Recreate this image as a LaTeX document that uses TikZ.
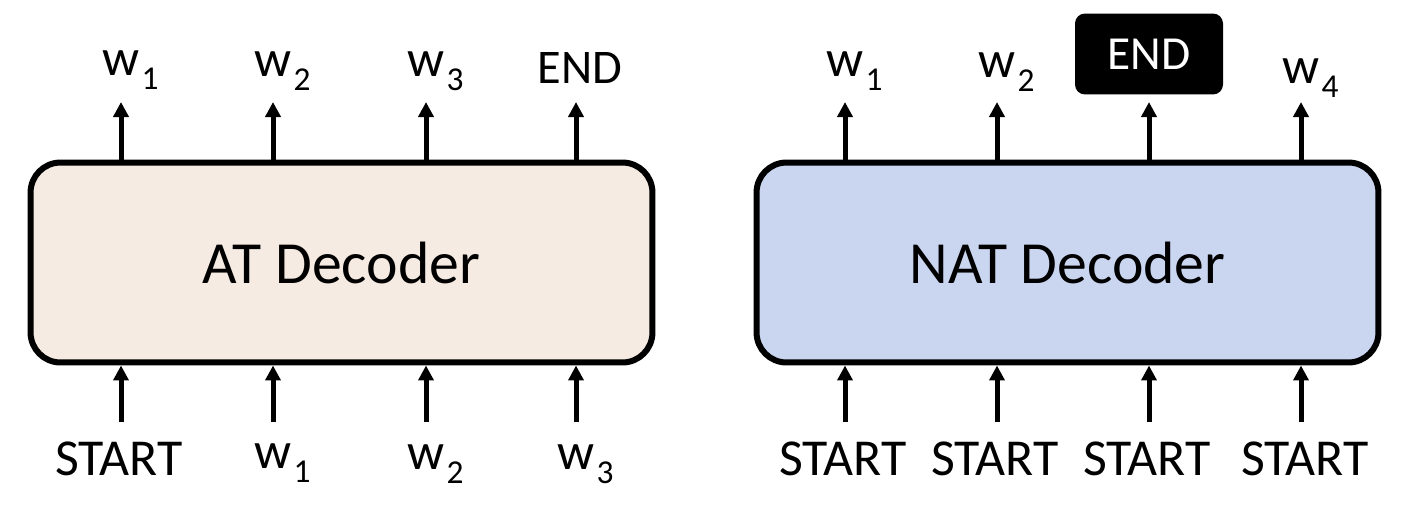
\documentclass[tikz,border=0pt]{standalone}
\usepackage{fontspec}
\setmainfont{Carlito}
\usetikzlibrary{positioning,arrows.meta}
\definecolor{atfill}{RGB}{245,235,226}
\definecolor{natfill}{RGB}{202,213,240}
\newcommand{\wsub}[1]{w\rlap{\kern0.04em\raisebox{-0.28em}{\fontsize{19}{19}\selectfont #1}}}

\begin{document}
\begin{tikzpicture}[x=0.02cm, y=-0.02cm,
  decoder/.style={draw, line width=0.12cm, rounded corners=0.6cm, minimum width=12.44cm, minimum height=4cm, font=\fontsize{34}{40}\selectfont},
  tok/.style={anchor=base, inner sep=0pt, font=\fontsize{29.5}{34}\selectfont},
  endbox/.style={fill=black, text=white, rounded corners=0.2cm, minimum width=2.96cm, minimum height=1.62cm, font=\fontsize{27}{32}\selectfont},
  arr/.style={line width=0.1cm, -{Triangle[length=0.3cm, width=0.3cm]}},
]
\useasboundingbox (0,0) rectangle (1422,508);

% decoders
\node[decoder, fill=atfill] (atdec) at (341.5,262.5) {AT Decoder};
\node[decoder, fill=natfill] (natdec) at (1067.5,262.5) {NAT Decoder};

% AT outputs
\node[tok] (atout1) at (121,75) {\wsub{1}};
\node[tok] (atout2) at (273,76) {\wsub{2}};
\node[tok] (atout3) at (426,76) {\wsub{3}};
\node[tok, font=\fontsize{27.5}{32}\selectfont] (atout4) at (580,83) {END};
\coordinate (atup1) at (121,102);
\coordinate (atup2) at (273,102);
\coordinate (atup3) at (426,102);
\coordinate (atup4) at (576,102);
\draw[arr] (atdec.north -| atup1) -- (atup1);
\draw[arr] (atdec.north -| atup2) -- (atup2);
\draw[arr] (atdec.north -| atup3) -- (atup3);
\draw[arr] (atdec.north -| atup4) -- (atup4);

% AT inputs
\node[tok] (atin1) at (119,475) {START};
\node[tok] (atin2) at (273,468) {\wsub{1}};
\node[tok] (atin3) at (426,469) {\wsub{2}};
\node[tok] (atin4) at (576,469) {\wsub{3}};
\coordinate (atlow1) at (121,422);
\coordinate (atlow2) at (273,422);
\coordinate (atlow3) at (426,422);
\coordinate (atlow4) at (576,422);
\draw[arr] (atlow1) -- (atdec.south -| atlow1);
\draw[arr] (atlow2) -- (atdec.south -| atlow2);
\draw[arr] (atlow3) -- (atdec.south -| atlow3);
\draw[arr] (atlow4) -- (atdec.south -| atlow4);

% NAT outputs
\node[tok] (natout1) at (845,76) {\wsub{1}};
\node[tok] (natout2) at (997,77) {\wsub{2}};
\node[endbox] (natout3) at (1149,54) {END};
\node[tok] (natout4) at (1301,83) {\wsub{4}};
\coordinate (natup1) at (845,102);
\coordinate (natup2) at (997,102);
\coordinate (natup3) at (1149,102);
\coordinate (natup4) at (1301,102);
\draw[arr] (natdec.north -| natup1) -- (natup1);
\draw[arr] (natdec.north -| natup2) -- (natup2);
\draw[arr] (natdec.north -| natup3) -- (natup3);
\draw[arr] (natdec.north -| natup4) -- (natup4);

% NAT inputs
\node[tok] (natin1) at (843,475) {START};
\node[tok] (natin2) at (995,475) {START};
\node[tok] (natin3) at (1147,475) {START};
\node[tok] (natin4) at (1305,475) {START};
\coordinate (natlow1) at (845,422);
\coordinate (natlow2) at (997,422);
\coordinate (natlow3) at (1149,422);
\coordinate (natlow4) at (1301,422);
\draw[arr] (natlow1) -- (natdec.south -| natlow1);
\draw[arr] (natlow2) -- (natdec.south -| natlow2);
\draw[arr] (natlow3) -- (natdec.south -| natlow3);
\draw[arr] (natlow4) -- (natdec.south -| natlow4);
\end{tikzpicture}
\end{document}
